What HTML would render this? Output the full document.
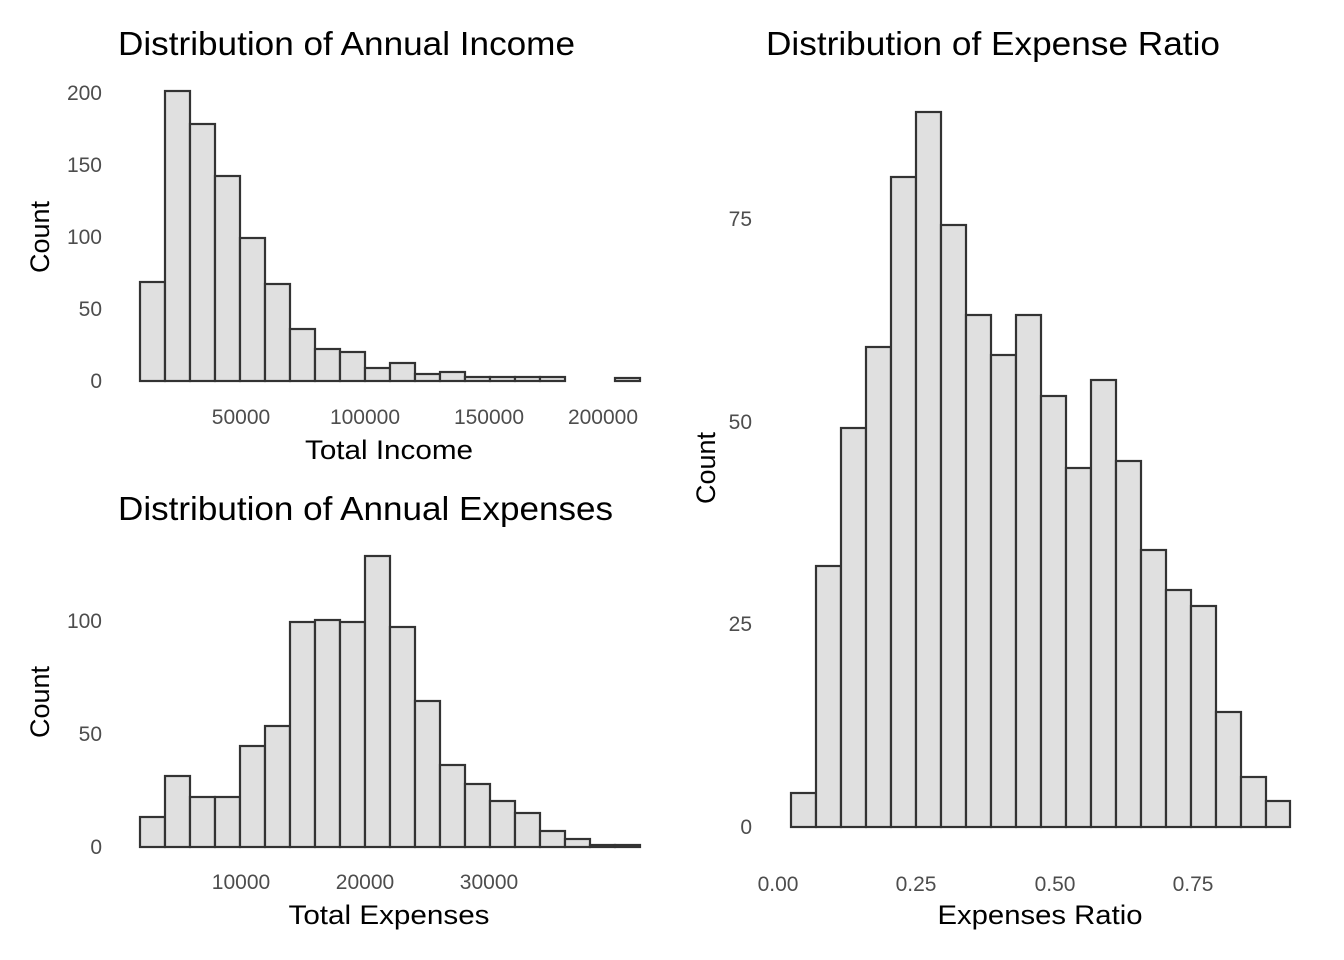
<!DOCTYPE html>
<html><head><meta charset="utf-8"><style>
html,body{margin:0;padding:0;background:#fff;}
svg{display:block;font-family:"Liberation Sans",Arial,sans-serif;}
.t{font-size:33px;fill:#000;}
.a{font-size:27px;fill:#000;}
.k{font-size:21px;fill:#4d4d4d;}
rect{fill:#e0e0e0;stroke:#333;stroke-width:2.2;}
</style></head><body>
<svg width="1344" height="960" viewBox="0 0 1344 960" xmlns="http://www.w3.org/2000/svg">
<rect x="0" y="0" width="1344" height="960" style="fill:#fff;stroke:none"/>
<!-- Panel 1 -->
<text class="t" x="118" y="55" textLength="457" lengthAdjust="spacingAndGlyphs">Distribution of Annual Income</text>
<g>
<rect x="140" y="282" width="25" height="99"/>
<rect x="165" y="91" width="25" height="290"/>
<rect x="190" y="124" width="25" height="257"/>
<rect x="215" y="176" width="25" height="205"/>
<rect x="240" y="238" width="25" height="143"/>
<rect x="265" y="284" width="25" height="97"/>
<rect x="290" y="329" width="25" height="52"/>
<rect x="315" y="349" width="25" height="32"/>
<rect x="340" y="352" width="25" height="29"/>
<rect x="365" y="368" width="25" height="13"/>
<rect x="390" y="363" width="25" height="18"/>
<rect x="415" y="374" width="25" height="7"/>
<rect x="440" y="372" width="25" height="9"/>
<rect x="465" y="377" width="25" height="4"/>
<rect x="490" y="377" width="25" height="4"/>
<rect x="515" y="377" width="25" height="4"/>
<rect x="540" y="377" width="25" height="4"/>
<rect x="565" y="381" width="25" height="0"/>
<rect x="590" y="381" width="25" height="0"/>
<rect x="615" y="378" width="25" height="3"/>
</g>
<g class="k" text-anchor="end">
<text x="102" y="100">200</text><text x="102" y="172">150</text><text x="102" y="244">100</text><text x="102" y="316">50</text><text x="102" y="388">0</text>
</g>
<g class="k" text-anchor="middle">
<text x="241" y="424">50000</text><text x="365" y="424">100000</text><text x="489" y="424">150000</text><text x="603" y="424">200000</text>
</g>
<text class="a" x="389" y="459" text-anchor="middle" textLength="168" lengthAdjust="spacingAndGlyphs">Total Income</text>
<text class="a" transform="translate(49,237) rotate(-90)" text-anchor="middle">Count</text>

<!-- Panel 2 -->
<text class="t" x="118" y="520" textLength="495" lengthAdjust="spacingAndGlyphs">Distribution of Annual Expenses</text>
<g>
<rect x="140" y="817" width="25" height="30"/>
<rect x="165" y="776" width="25" height="71"/>
<rect x="190" y="797" width="25" height="50"/>
<rect x="215" y="797" width="25" height="50"/>
<rect x="240" y="746" width="25" height="101"/>
<rect x="265" y="726" width="25" height="121"/>
<rect x="290" y="622" width="25" height="225"/>
<rect x="315" y="620" width="25" height="227"/>
<rect x="340" y="622" width="25" height="225"/>
<rect x="365" y="556" width="25" height="291"/>
<rect x="390" y="627" width="25" height="220"/>
<rect x="415" y="701" width="25" height="146"/>
<rect x="440" y="765" width="25" height="82"/>
<rect x="465" y="784" width="25" height="63"/>
<rect x="490" y="801" width="25" height="46"/>
<rect x="515" y="813" width="25" height="34"/>
<rect x="540" y="831" width="25" height="16"/>
<rect x="565" y="839" width="25" height="8"/>
<rect x="590" y="845" width="25" height="2"/>
<rect x="615" y="845" width="25" height="2"/>
</g>
<g class="k" text-anchor="end">
<text x="102" y="628">100</text><text x="102" y="741">50</text><text x="102" y="854">0</text>
</g>
<g class="k" text-anchor="middle">
<text x="241" y="889">10000</text><text x="365" y="889">20000</text><text x="489" y="889">30000</text>
</g>
<text class="a" x="389" y="924" text-anchor="middle" textLength="201" lengthAdjust="spacingAndGlyphs">Total Expenses</text>
<text class="a" transform="translate(49,702) rotate(-90)" text-anchor="middle">Count</text>

<!-- Panel 3 -->
<text class="t" x="766" y="55" textLength="454" lengthAdjust="spacingAndGlyphs">Distribution of Expense Ratio</text>
<g>
<rect x="791" y="793" width="25" height="34"/>
<rect x="816" y="566" width="25" height="261"/>
<rect x="841" y="428" width="25" height="399"/>
<rect x="866" y="347" width="25" height="480"/>
<rect x="891" y="177" width="25" height="650"/>
<rect x="916" y="112" width="25" height="715"/>
<rect x="941" y="225" width="25" height="602"/>
<rect x="966" y="315" width="25" height="512"/>
<rect x="991" y="355" width="25" height="472"/>
<rect x="1016" y="315" width="25" height="512"/>
<rect x="1041" y="396" width="25" height="431"/>
<rect x="1066" y="468" width="25" height="359"/>
<rect x="1091" y="380" width="25" height="447"/>
<rect x="1116" y="461" width="25" height="366"/>
<rect x="1141" y="550" width="25" height="277"/>
<rect x="1166" y="590" width="25" height="237"/>
<rect x="1191" y="606" width="25" height="221"/>
<rect x="1216" y="712" width="25" height="115"/>
<rect x="1241" y="777" width="25" height="50"/>
<rect x="1266" y="801" width="24" height="26"/>
</g>
<g class="k" text-anchor="end">
<text x="752" y="226">75</text><text x="752" y="429">50</text><text x="752" y="631">25</text><text x="752" y="834">0</text>
</g>
<g class="k" text-anchor="middle">
<text x="778" y="891">0.00</text><text x="916" y="891">0.25</text><text x="1055" y="891">0.50</text><text x="1193" y="891">0.75</text>
</g>
<text class="a" x="1040" y="924" text-anchor="middle" textLength="205" lengthAdjust="spacingAndGlyphs">Expenses Ratio</text>
<text class="a" transform="translate(715,468) rotate(-90)" text-anchor="middle">Count</text>
</svg>
</body></html>
